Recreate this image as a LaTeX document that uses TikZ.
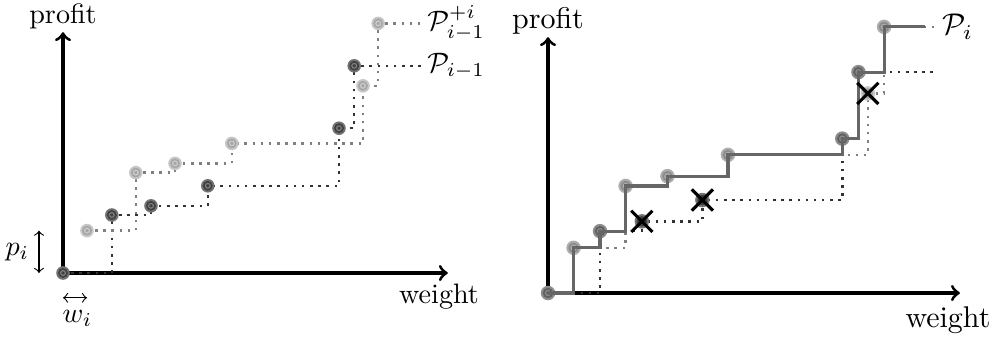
\documentclass[tikz,border=0pt]{standalone}
\usetikzlibrary{shapes.misc}
\tikzset{
	axis/.style={line width=1.1pt,->},
	dkline/.style={black!80, dotted, line width=0.9pt},
	ltline/.style={black!50, dotted, line width=0.9pt},
	pline/.style={black!60, line width=1.1pt},
	xmark/.style={draw, cross out, line width=1.1pt, minimum size=0.21cm, inner sep=0pt},
	plab/.style={right, inner sep=0.5pt},
}
\begin{document}
\begin{tikzpicture}
		\useasboundingbox (0,0) rectangle (12.4125,4.2375);
		%left: the two lists
		\begin{scope}[shift={(0.7875,0.825)}]
		\coordinate (d0) at (0,0);
		\coordinate (d1) at (0.61,0.725);
		\coordinate (d2) at (1.1,0.84);
		\coordinate (d3) at (1.81,1.09);
		\coordinate (d4) at (3.45,1.81);
		\coordinate (d5) at (3.64,2.59);
		\coordinate (l1) at (0.3,0.53);
		\coordinate (l2) at (0.91,1.255);
		\coordinate (l3) at (1.4,1.37);
		\coordinate (l4) at (2.11,1.62);
		\coordinate (l5) at (3.75,2.34);
		\coordinate (l6) at (3.94,3.12);
		\draw[axis] (d0) -- (0,3.01) node[above, inner sep=0.5pt] (prof1) {profit};
		\draw[axis] (d0) -- (4.81,0);
		\node (wt1) at (4.7,-0.3) {weight};
		\draw[<->] (-0.3,0) coordinate (pa) -- (-0.3,0.53) coordinate (pb) node[midway,left] (pi1) {$p_i$};
		\draw[<->] (0,-0.31) coordinate (wa) -- (0.3,-0.31) coordinate (wb);
		\node (wi1) at (0.18,-0.57) {$w_i$};
		\node[plab] (lbd) at (4.53,2.59) {$\mathcal{P}_{i-1}$};
		\node[plab] (lbl) at (4.53,3.12) {$\mathcal{P}_{i-1}^{+i}$};
		\draw[dkline] (d0) -| (d1) -| (d2) -| (d3) -| (d4) -| (d5) -- (lbd.west);
		\draw[ltline] (l1) -| (l2) -| (l3) -| (l4) -| (l5) -| (l6) -- (lbl.west);
		\foreach \n in {0,...,5} {\fill[black!55] (d\n) circle (0.085); \fill[black!75] (d\n) circle (0.062); \draw[black!50,thin] (d\n) circle (0.03);}
		\foreach \n in {1,...,6} {\fill[black!22] (l\n) circle (0.085); \fill[black!35] (l\n) circle (0.062); \draw[black!20,thin] (l\n) circle (0.03);}
		\end{scope}
		
		%right: the merged list
		\begin{scope}[shift={(6.85,0.575)}, scale=1.066, transform shape]
		\coordinate (d0) at (0,0);
		\coordinate (d1) at (0.61,0.725);
		\coordinate (d2) at (1.1,0.84);
		\coordinate (d3) at (1.81,1.09);
		\coordinate (d4) at (3.45,1.81);
		\coordinate (d5) at (3.64,2.59);
		\coordinate (l1) at (0.3,0.53);
		\coordinate (l2) at (0.91,1.255);
		\coordinate (l3) at (1.4,1.37);
		\coordinate (l4) at (2.11,1.62);
		\coordinate (l5) at (3.75,2.34);
		\coordinate (l6) at (3.94,3.12);
		\coordinate (dend) at (4.52,2.59);
		\coordinate (lend) at (4.52,3.12);
		\coordinate (pend) at (4.42,3.12);
		\draw[axis] (d0) -- (0,3.0) node[above, inner sep=0.5pt] (prof2) {profit};
		\draw[axis] (d0) -- (4.83,0);
		\node (wt2) at (4.69,-0.32) {weight};
		\node[plab] (lbp) at (4.6,3.12) {$\mathcal{P}_i$};
		\draw[dkline] (d0) -| (d1) -| (d2) -| (d3) -| (d4) -| (d5) -- (dend);
		\draw[ltline] (l1) -| (l2) -| (l3) -| (l4) -| (l5) -| (l6) -- (lend);
		\foreach \n in {2,3} {\fill[black!55] (d\n) circle (0.085); \fill[black!75] (d\n) circle (0.062);}
		\fill[black!22] (l5) circle (0.085); \fill[black!35] (l5) circle (0.062);
		\foreach \p in {d0,d1,d4,d5} {\fill[black!45] (\p) circle (0.085); \fill[black!62] (\p) circle (0.062); \draw[black!45,thin] (\p) circle (0.03);}
		\foreach \p in {l1,l2,l3,l4,l6} {\fill[black!32] (\p) circle (0.085); \fill[black!45] (\p) circle (0.062); \draw[black!32,thin] (\p) circle (0.03);}
		\draw[pline] (d0) -| (l1) -| (d1) -| (l2) -| (l3) -| (l4) -| (d4) -| (d5) -| (l6) -- (pend);
		\node[xmark] (x2) at (d2) {};
		\node[xmark] (x3) at (d3) {};
		\node[xmark] (x5) at (l5) {};
		\end{scope}
\end{tikzpicture}
\end{document}
